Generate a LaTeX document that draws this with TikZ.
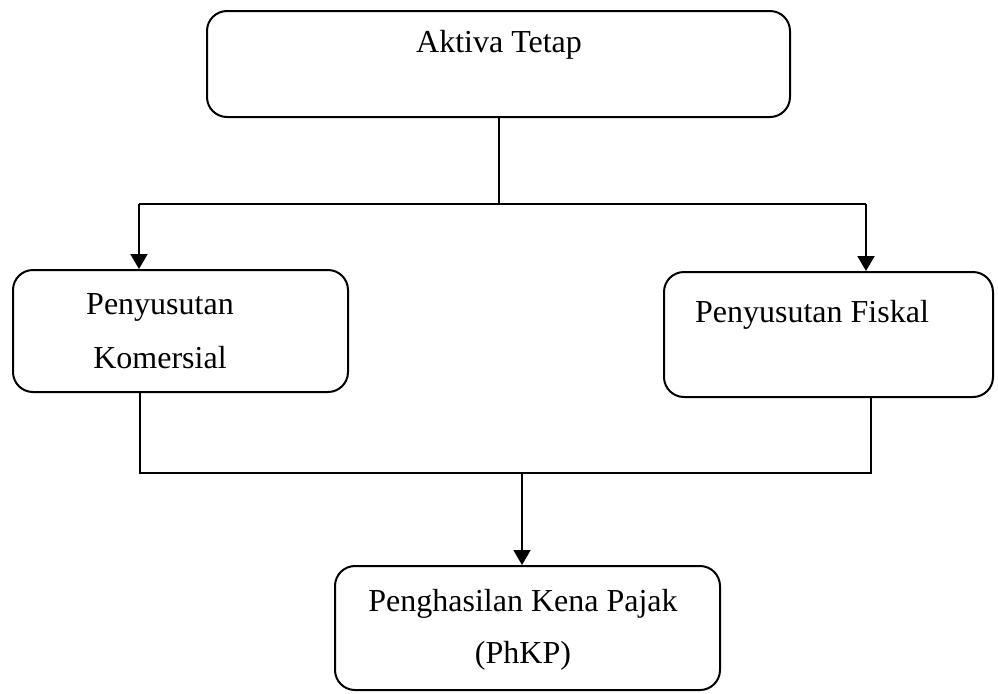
\documentclass[tikz,border=0pt]{standalone}
\usepackage{fontspec}
\setmainfont{Liberation Serif}
\usetikzlibrary{arrows.meta, positioning, calc}

\begin{document}
\begin{tikzpicture}[x=0.5pt, y=-0.5pt,
  box/.style={rectangle, draw, line width=1pt, rounded corners=10pt, inner sep=0pt},
  arrow/.style={-{Triangle[length=7.5pt, width=8.5pt]}, line width=1pt},
  line/.style={line width=1pt},
  txt/.style={font=\fontsize{16}{27}\selectfont, align=center, inner sep=0pt}
]
\useasboundingbox (0,0) rectangle (998,693);

% boxes
\node[box, minimum width=291.5pt, minimum height=53pt] (aktiva) at (498.5,64) {};
\node[box, minimum width=167.5pt, minimum height=61pt] (komersial) at (180.5,331) {};
\node[box, minimum width=164.5pt, minimum height=62.5pt] (fiskal) at (828.5,334.5) {};
\node[box, minimum width=192.5pt, minimum height=62pt] (phkp) at (527.5,628) {};

% texts
\node[txt, anchor=base] (t-aktiva) at (499,52) {Aktiva Tetap};
\node[txt] (t-komersial) at (160,331.5) {Penyusutan\\Komersial};
\node[txt, anchor=base] (t-fiskal) at (812,322) {Penyusutan Fiskal};
\node[txt] (t-phkp) at (523,630) {Penghasilan Kena Pajak\\[-1pt](PhKP)};

% split from the top box
\coordinate (split) at (aktiva.south |- 0,204);
\coordinate (splitL) at (139,204);
\coordinate (splitR) at (866,204);
\draw[line] (aktiva.south) -- (split);
\draw[line] (splitL) -- (splitR);
\draw[arrow] (splitL) -- (splitL |- komersial.north);
\draw[arrow] (splitR) -- (splitR |- fiskal.north);

% join into the bottom box
\coordinate (joinL) at (140,473);
\coordinate (joinR) at (871,473);
\coordinate (join) at (522,473);
\draw[line] (komersial.south -| joinL) -- (joinL) -- (joinR) -- (fiskal.south -| joinR);
\draw[arrow] (join) -- (join |- phkp.north);
\end{tikzpicture}
\end{document}
